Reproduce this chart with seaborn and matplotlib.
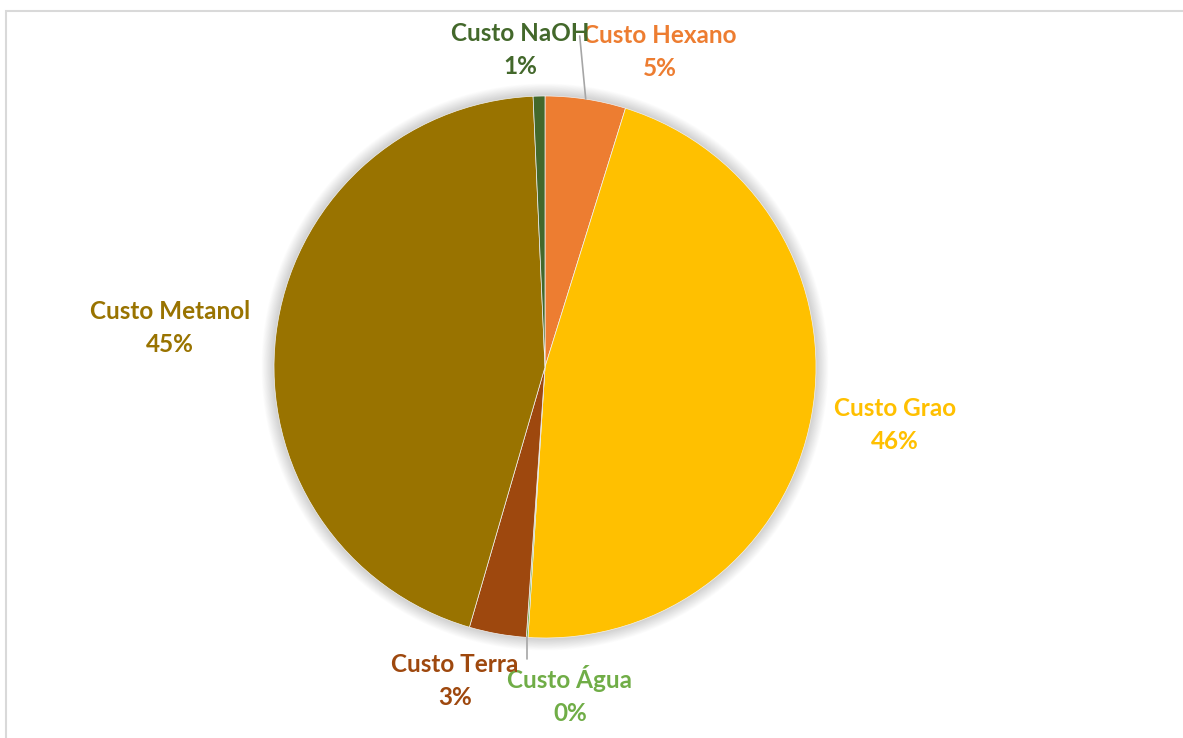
import numpy as np
import matplotlib
matplotlib.use("Agg")
import matplotlib.pyplot as plt
from matplotlib.patches import Circle, Rectangle
import seaborn as sns

# Cost shares (percent)
categories = ["Custo Hexano", "Custo Grao", "Custo Água", "Custo Terra", "Custo Metanol", "Custo NaOH"]
shares = [4.8, 46.2, 0.1, 3.4, 44.8, 0.7]
colors = ["#ED7D31", "#FFC000", "#70AD47", "#9E480E", "#997300", "#43682B"]

sns.set_theme(style="white")
plt.rcParams["font.family"] = ["Lato", "DejaVu Sans"]

W, H = 1183, 738
fig = plt.figure(figsize=(W / 100, H / 100), dpi=100)
ax = fig.add_axes([0, 0, 1, 1])

cx, cy, R = 545, H - 367, 271

# chart frame
ax.add_patch(Rectangle((6.5, -5), W, H - 10.5 + 5, fill=False,
                       edgecolor="#d9d9d9", linewidth=1.5, zorder=0))

# soft halo behind the pie
for i in range(16):
    ax.add_patch(Circle((cx, cy), R + 0.5 + i * 0.8, color="black",
                        alpha=0.010, linewidth=0, zorder=1))

wedges, _ = ax.pie(shares, colors=colors, startangle=90, counterclock=False,
                   center=(cx, cy), radius=R, frame=True,
                   wedgeprops=dict(linewidth=0.5, edgecolor="#f2f2f2"))
for w in wedges:
    w.set_zorder(2)
ax.set_xlim(0, W)
ax.set_ylim(0, H)
ax.set_aspect("equal")
ax.axis("off")

total = sum(shares)
pct = [round(v / total * 100) for v in shares]

# label positions (pixels from top-left)
label_pos = {
    "Custo Hexano": (660, 52),
    "Custo Grao": (895, 425),
    "Custo Água": (570, 695),
    "Custo Terra": (455, 681),
    "Custo Metanol": (170, 328),
    "Custo NaOH": (520, 50),
}

for name, val, col in zip(categories, pct, colors):
    lx, ly = label_pos[name]
    ax.text(lx, H - ly, f"{name}\n{val}%", color=col, fontsize=17.5,
            fontweight="bold", ha="center", va="center", linespacing=1.55,
            zorder=5)

# leader lines for the narrow slices
leaders = {"Custo Hexano": 36, "Custo Água": 659}
for name, w in zip(categories, wedges):
    if name in leaders:
        mid = np.deg2rad((w.theta1 + w.theta2) / 2)
        ex, ey = cx + R * np.cos(mid), cy + R * np.sin(mid)
        ty = H - leaders[name]
        tx = ex - 6 if name == "Custo Hexano" else ex
        ax.plot([ex, tx], [ey, ty], color="#a6a6a6", linewidth=1.2, zorder=3)

fig.savefig("out.png", dpi=100)
